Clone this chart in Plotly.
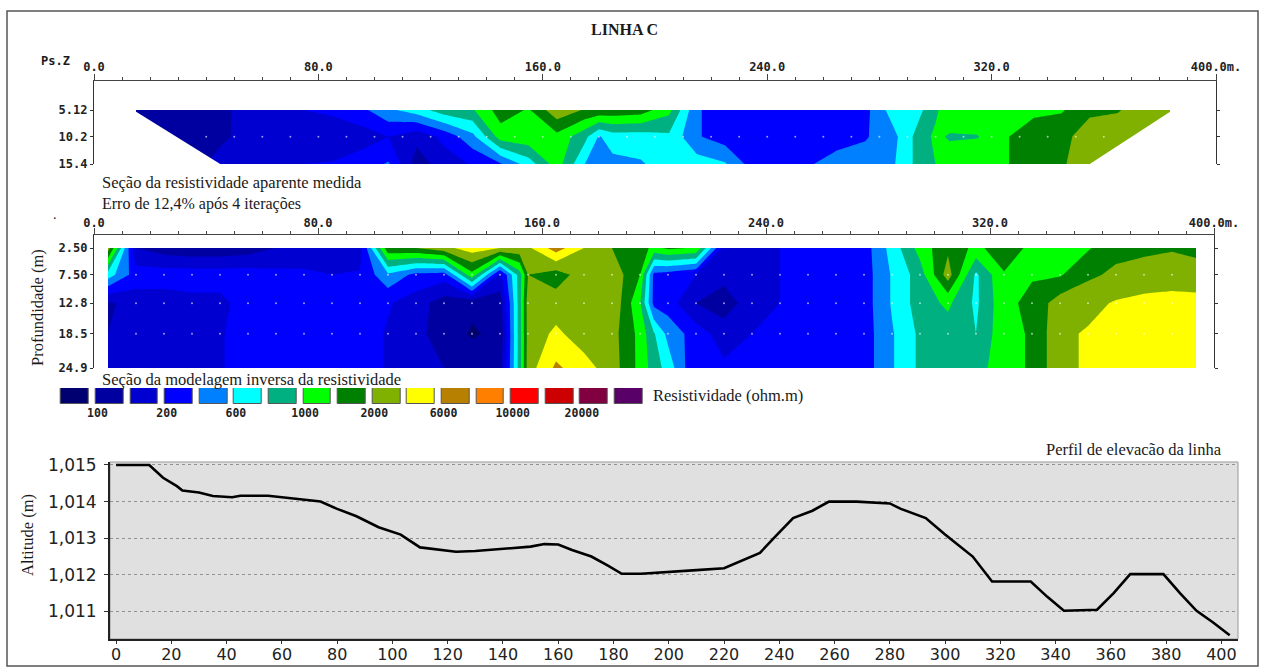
import plotly.graph_objects as go

W, H = 1265, 670

# ---------- data ----------
BAND_COLORS = ["#000070", "#0000a0", "#0000d0", "#0000ff", "#0080ff", "#00ffff", "#00b080", "#00ff00",
               "#008000", "#80b000", "#ffff00", "#b88000", "#ff8000", "#ff0000", "#cc0000", "#800040", "#580068"]
LEGEND_LABELS = ["100", "200", "600", "1000", "2000", "6000", "10000", "20000"]

# Apparent resistivity section (values are colour-band positions)
APP_X = [15, 25, 35, 45, 55, 65, 75, 85, 95, 105, 115, 125, 135, 145, 155, 165, 175, 180, 185, 195, 205, 215, 225,
         235, 245, 255, 265, 275, 285, 295, 300, 305, 315, 325, 335, 345, 355, 365, 375, 383.6]
APP_DEPTH = [5.12, 10.2, 15.4]
APP_TOP = [.6, .8, 1, 1.3, 1.8, 2.2, 2.5, 2.8, 3.2, 4.3, 5, 6.1, 6.4, 8, 7.4, 9.2, 8.4, 8.3, 8.2, 8, 6.8, 3.6, 3,
           2.8, 3, 3, 3, 3.2, 5, 5.4, 6.3, 7.2, 7.2, 7.2, 7.2, 7.4, 8.3, 8.4, 9.2, 9.2]
APP_MID = [.6, .7, .8, 1.2, 2, 2.2, 2.2, 1.5, 2, 2.5, 1.8, 2.8, 4.2, 7, 7.2, 7.2, 5.8, 4.4, 5, 5, 5.3, 3.6, 3,
           2.8, 2.8, 2.8, 3, 3.4, 4.2, 6.1, 6.7, 6.4, 6.45, 7.4, 8.2, 8.2, 9, 9.3, 9.3, 9.3]
APP_BOT = [1, 1, 1, 2, 2, 2.2, 2.5, 2.6, 3, 3.6, 1, 2, 2.6, 3.4, 5, 7, 4.5, 4, 4.2, 4.4, 5, 5, 4.6,
           3, 3, 3.4, 4, 4, 4.4, 6, 6.5, 7, 7.2, 7.4, 8.2, 8.4, 9, 9, 9, 9]

# Inverse model section
INV_X = [5, 15, 25, 35, 45, 55, 65, 75, 85, 95, 105, 115, 125, 135, 145, 152, 155, 165, 175, 185, 195, 200, 205, 215,
         225, 235, 245, 255, 265, 275, 285, 295, 305, 315, 325, 335, 345, 355, 365, 375, 385, 393.6]
INV_DEPTH = [2.5, 7.5, 12.8, 18.5, 24.9]
INV_D1 = [9, 1.5, 1, .8, .8, 1, 1.5, 1.8, 1.5, 2, 8.3, 8.5, 9.2, 10, 9.5, 9.3, 9.3, 11, 9.5, 8.5, 8, 7.2, 7.7, 7.4,
          2, 2.5, 2.5, 2.7, 3, 3, 4.9, 6.9, 8.3, 7.2, 8.2, 7.2, 7.2, 7.4, 8.2, 8.2, 8.4, 8.2]
INV_D2 = [5, 3, 3, 3, 3, 3, 2.8, 2.7, 2.5, 2.6, 4.3, 3.2, 3, 7.2, 2.2, 6, 8.5, 8, 9, 9.2, 7.5, 3.2, 3, 2.5,
          1.8, 1.8, 2.5, 2.7, 3, 3, 4.6, 6, 9, 5.3, 7.4, 7.4, 7.4, 8.3, 8.7, 9.1, 9.1, 9.0]
INV_D3 = [1.3, 2, 2, 2.2, 2.2, 3, 3, 3, 3, 3, 2.6, 2, 1, .7, 1, 6, 9, 9, 9, 9.4, 6.6, 3.2, 3, 1.5,
          1, 2, 2.5, 2.6, 3, 3, 4.6, 6, 6.7, 5.3, 7.2, 7.8, 9, 9.2, 9.6, 9.7, 9.8, 9.8]
INV_D4 = [1.5, 1.6, 2, 2.2, 2.4, 3, 3, 3, 3, 3, 2.4, 1.8, 1, .4, .7, 6, 8.9, 9.7, 9, 8.9, 7.2, 5.6, 4.2, 3,
          2, 2.5, 3, 3, 3, 3, 4.4, 5.7, 6, 5.5, 7.2, 7.6, 9.3, 9.6, 10.3, 10.3, 10.3, 10.3]
INV_D5 = [1.6, 1.8, 2.2, 2.4, 2.4, 3, 3, 3, 3, 3, 2.4, 2, 1.5, 1, 1, 6, 9, 10.7, 9.9, 9, 7.2, 6, 5.1, 2.5,
          2.7, 3, 3, 3, 3, 3, 4.4, 5.7, 6, 6, 7.2, 7.6, 9.3, 9.6, 10.3, 10.3, 10.3, 10.3]

# Elevation profile
ELEV_X = [0, 12, 17, 22, 24, 30, 35, 42, 45, 55, 60, 65, 74, 80, 87, 95, 103, 110, 118, 123, 130, 140, 150, 155, 160,
          165, 172, 178, 183, 190, 200, 210, 220, 227, 233, 238, 245, 252, 258, 268, 280, 284, 293, 300, 310, 317,
          331, 337, 343, 355, 361, 367, 379, 385, 391, 397, 403]
ELEV_Y = [1015, 1015, 1014.65, 1014.42, 1014.3, 1014.25, 1014.15, 1014.12, 1014.16, 1014.16, 1014.12, 1014.08, 1014.0,
          1013.8, 1013.6, 1013.3, 1013.1, 1012.75, 1012.68, 1012.63, 1012.65, 1012.7, 1012.77, 1012.84, 1012.83,
          1012.68, 1012.5, 1012.25, 1012.03, 1012.03, 1012.09, 1012.13, 1012.18, 1012.4, 1012.6, 1013.0, 1013.55,
          1013.75, 1014.0, 1014.0, 1013.95, 1013.8, 1013.55, 1013.1, 1012.5, 1011.82, 1011.82, 1011.4, 1011.02,
          1011.05, 1011.5, 1012.02, 1012.02, 1011.5, 1011.02, 1010.7, 1010.35]
ELEV_TICKS_Y = [1011, 1012, 1013, 1014, 1015]
ELEV_TICKS_Y_TEXT = ["1,011", "1,012", "1,013", "1,014", "1,015"]
ELEV_TICKS_X = list(range(0, 401, 20))

SEC_TICKS = [0, 80, 160, 240, 320, 400]
SEC_TICK_TEXT = ["0.0", "80.0", "160.0", "240.0", "320.0", "400.0m."]

# ---------- helpers ----------
def xdom(a, b):
    return [a / W, b / W]

def ydom(top, bottom):
    return [1 - bottom / H, 1 - top / H]

MONO = dict(family="DejaVu Sans Mono", size=12, color="#222222", weight="bold")
SERIF = "Liberation Serif"
n = len(BAND_COLORS)
SCALE = [[i / (n - 1), c] for i, c in enumerate(BAND_COLORS)]
CONT = dict(start=0.5, end=15.5, size=1, coloring="fill", showlines=False)
NOLINE = dict(width=0, smoothing=0)

fig = go.Figure()
fig.add_trace(go.Contour(x=APP_X, y=APP_DEPTH, z=[APP_TOP, APP_MID, APP_BOT], colorscale=SCALE, autocontour=False,
                         contours=CONT, line=NOLINE, showscale=False, hoverinfo="skip", xaxis="x", yaxis="y"))
fig.add_trace(go.Contour(x=INV_X, y=INV_DEPTH, z=[INV_D1, INV_D2, INV_D3, INV_D4, INV_D5], colorscale=SCALE,
                         autocontour=False, contours=CONT, line=NOLINE, showscale=False, hoverinfo="skip",
                         xaxis="x2", yaxis="y2"))
# measurement nodes
dots_app = list(range(40, 361, 10))
fig.add_trace(go.Scatter(x=dots_app, y=[APP_DEPTH[1]] * len(dots_app), mode="markers", hoverinfo="skip",
                         marker=dict(color="white", size=2, opacity=.6), xaxis="x", yaxis="y"))
dots_inv = [x for x in INV_X if x % 10 == 5 and 15 <= x <= 385]
fig.add_trace(go.Scatter(x=dots_inv * 3, y=sum([[d] * len(dots_inv) for d in INV_DEPTH[1:4]], []), mode="markers",
                         hoverinfo="skip", marker=dict(color="white", size=2, opacity=.6), xaxis="x2", yaxis="y2"))
# legend
fig.add_trace(go.Bar(x=list(range(n)), y=[1] * n, width=0.8, marker=dict(color=BAND_COLORS, line=dict(color="#555555", width=1)),
                     hoverinfo="skip", xaxis="x3", yaxis="y3"))
# elevation
fig.add_trace(go.Scatter(x=ELEV_X, y=ELEV_Y, mode="lines", line=dict(color="black", width=2.6), hoverinfo="skip",
                         xaxis="x4", yaxis="y4"))

sec_x = dict(range=[0, 400], side="top", tickmode="array", tickvals=SEC_TICKS, ticktext=SEC_TICK_TEXT, ticks="outside",
             ticklen=6, tickcolor="#444444", tickwidth=1, showline=True, linecolor="#444444", linewidth=1.3,
             showgrid=False, zeroline=False, tickfont=MONO, automargin=False,
             minor=dict(tickmode="array", tickvals=list(range(0, 401, 10)), ticks="outside", ticklen=3,
                        tickcolor="#444444", showgrid=False))
sec_y = dict(tickmode="array", ticks="outside", ticklen=3, tickcolor="#333333", showline=True, linecolor="#333333",
             linewidth=1.3, mirror="ticks", showgrid=False, zeroline=False, tickfont=MONO, automargin=False)

fig.update_layout(
    width=W, height=H, autosize=False, margin=dict(l=0, r=0, t=0, b=0, pad=0), paper_bgcolor="white", plot_bgcolor="white",
    showlegend=False, bargap=0,
    xaxis=dict(sec_x, domain=xdom(94, 1216), anchor="y", ticklabelstandoff=-2),
    yaxis=dict(sec_y, domain=ydom(81, 164), range=[15.4, -0.4], tickvals=APP_DEPTH,
               ticktext=["5.12", "10.2", "15.4"], anchor="x"),
    xaxis2=dict(sec_x, domain=xdom(94, 1214), anchor="y2", ticklabelstandoff=-4),
    yaxis2=dict(sec_y, domain=ydom(235, 368), range=[24.9, 0.07], tickvals=INV_DEPTH,
                ticktext=["2.50", "7.50", "12.8", "18.5", "24.9"], anchor="x2"),
    xaxis3=dict(domain=xdom(57.7, 645.9), range=[-.5, 16.5], tickmode="array", automargin=False,
                tickvals=[0.65 + 2 * i for i in range(len(LEGEND_LABELS))], ticktext=LEGEND_LABELS, ticks="",
                showline=False, showgrid=False, zeroline=False, tickfont=dict(MONO, size=11.5), anchor="y3"),
    yaxis3=dict(domain=ydom(388, 404), range=[0, 1], visible=False, anchor="x3", automargin=False),
    xaxis4=dict(domain=xdom(110, 1238), range=[-2.2, 406], tickmode="array", tickvals=ELEV_TICKS_X, ticks="outside",
                ticklen=3, tickcolor="#333333", showline=True, linecolor="#222222", linewidth=1.5, showgrid=False,
                zeroline=False, automargin=False, ticklabelstandoff=-3,
                tickfont=dict(family="DejaVu Sans", size=16, color="#222222"), anchor="y4"),
    yaxis4=dict(domain=ydom(462, 639), range=[1010.25, 1015.08], tickmode="array", tickvals=ELEV_TICKS_Y,
                ticktext=ELEV_TICKS_Y_TEXT, ticks="outside", ticklen=4, tickcolor="#333333", showline=True,
                linecolor="#222222", linewidth=1.8, showgrid=True, gridcolor="#909090", griddash="dot", gridwidth=1,
                zeroline=False, automargin=False, ticklabelstandoff=4,
                tickfont=dict(family="DejaVu Sans", size=17, color="#222222"), anchor="x4"),
)

shapes = [
    dict(type="rect", xref="paper", yref="paper", x0=7 / W, x1=1258 / W, y0=1 - 666 / H, y1=1 - 11 / H,
         line=dict(color="#555555", width=1.5), layer="above"),
    dict(type="rect", xref="x4 domain", yref="y4 domain", x0=0, x1=1, y0=0, y1=1, fillcolor="#e0e0e0",
         line=dict(color="#999999", width=1), layer="below"),
    dict(type="path", xref="x", yref="y", path="M14,5.12 L45,15.4 L14,15.4 Z", fillcolor="white",
         line=dict(width=0), layer="above"),
    dict(type="path", xref="x", yref="y", path="M384.6,5.12 L355,15.4 L384.6,15.4 Z", fillcolor="white",
         line=dict(width=0), layer="above"),
]
fig.update_layout(shapes=shapes)

def note(text, px, py, size=16.5, font=SERIF, xanchor="left", angle=0, bold=False, color="#1a1a1a"):
    fig.add_annotation(text=f"<b>{text}</b>" if bold else text, xref="paper", yref="paper", x=px / W, y=1 - py / H,
                       xanchor=xanchor, yanchor="middle", showarrow=False, textangle=angle,
                       font=dict(family=font, size=size, color=color))

note("LINHA C", 624, 29, size=16, xanchor="center", bold=True)
note("Ps.Z", 39, 61, size=12, font="DejaVu Sans Mono", bold=True)
note("Seção da resistividade aparente medida", 100, 182)
note("Erro de 12,4% após 4 iterações", 100, 204, size=16)
note("Seção da modelagem inversa da resistividade", 100, 379)
note("Resistividade (ohm.m)", 651, 395)
note("Profundidade (m)", 37, 308, xanchor="center", angle=-90)
note("Altitude (m)", 27, 535, xanchor="center", angle=-90)
note("Perfil de elevacão da linha", 1224, 449, xanchor="right")
note(".", 55, 214, size=14, xanchor="center")

fig.write_html("out.html", config=dict(displayModeBar=False),
               post_script="document.body.style.margin='0';document.body.style.overflow='hidden';")
